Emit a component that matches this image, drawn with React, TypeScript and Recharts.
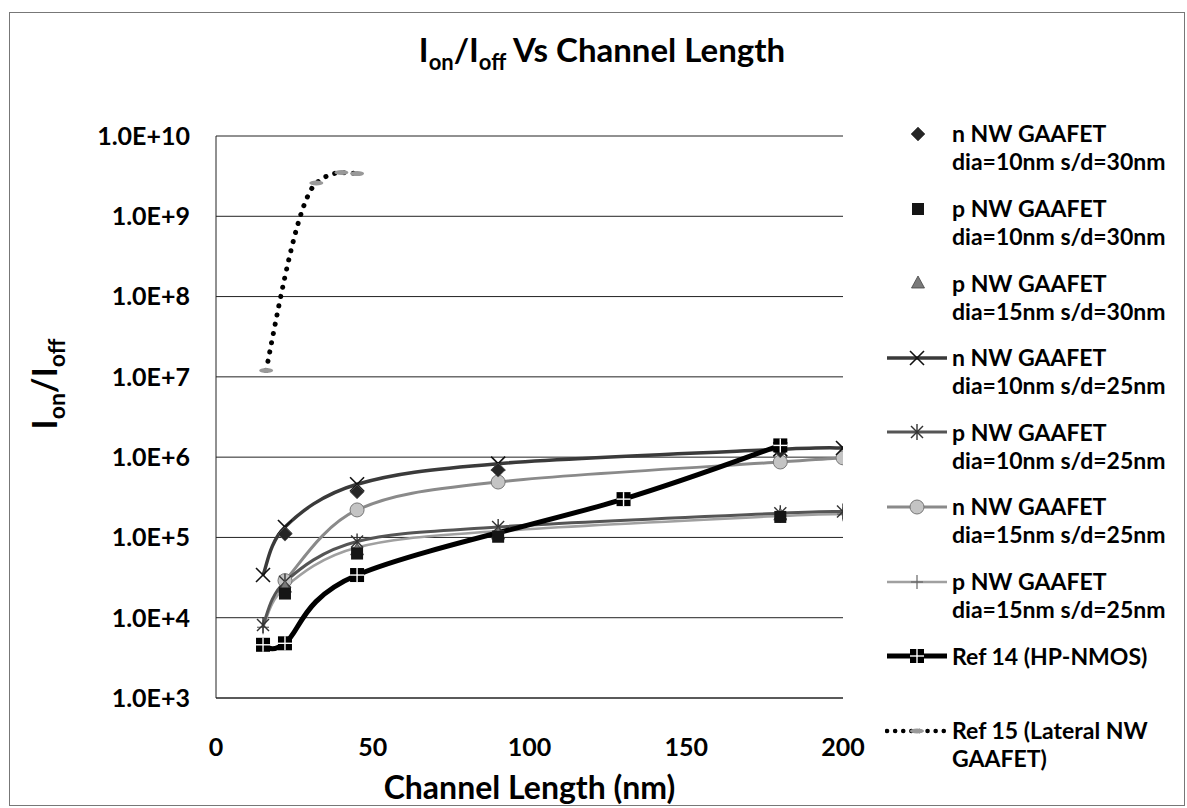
import React from 'react';
import { LineChart, Line, XAxis, YAxis, CartesianGrid } from 'recharts';

const FONT = "Lato, 'Open Sans', sans-serif";

// channel length (nm) per series group
const lenSd25 = [15, 22, 45, 90, 180, 200];
const lenSd30 = [22, 45, 90, 180];
const lenRef14 = [15, 22, 45, 130, 180];
const lenRef15 = [16, 32, 40, 45];

// Ion/Ioff values
const nDia10Sd30 = [1.1e5, 3.7e5, 6.9e5, 1.2e6];
const pDia10Sd30 = [2.0e4, 6.3e4, 1.02e5, 1.8e5];
const pDia15Sd30 = [2.4e4, 7.0e4, 1.1e5, 1.9e5];
const nDia10Sd25 = [3.4e4, 1.35e5, 4.6e5, 8.3e5, 1.25e6, 1.3e6];
const pDia10Sd25 = [8.1e3, 2.8e4, 8.9e4, 1.35e5, 2.0e5, 2.1e5];
const nDia15Sd25 = [null, 2.9e4, 2.2e5, 4.9e5, 8.7e5, 9.8e5];
const pDia15Sd25 = [7.6e3, 2.4e4, 7.5e4, 1.2e5, 1.85e5, 1.95e5];
const ref14 = [4.6e3, 4.8e3, 3.4e4, 3.0e5, 1.4e6];
const ref15 = [1.2e7, 2.6e9, 3.5e9, 3.4e9];

const xTicks = [0, 50, 100, 150, 200];
const yTicks = [1e3, 1e4, 1e5, 1e6, 1e7, 1e8, 1e9, 1e10];

const rows = (xs: number[], ys: (number | null)[]) =>
  xs.map((x, i) => ({ x, y: ys[i] })).filter(r => r.y != null);

// Excel-like smoothed line (Catmull-Rom as cubic bezier)
const excelSmooth = (context: any) => {
  let pts: number[][] = [];
  return {
    areaStart() {},
    areaEnd() {},
    lineStart() { pts = []; },
    point(x: number, y: number) { pts.push([+x, +y]); },
    lineEnd() {
      if (!pts.length) return;
      context.moveTo(pts[0][0], pts[0][1]);
      for (let i = 0; i < pts.length - 1; i++) {
        const p0 = pts[i - 1] || pts[i];
        const p1 = pts[i];
        const p2 = pts[i + 1];
        const p3 = pts[i + 2] || p2;
        context.bezierCurveTo(
          p1[0] + (p2[0] - p0[0]) / 6, p1[1] + (p2[1] - p0[1]) / 6,
          p2[0] - (p3[0] - p1[0]) / 6, p2[1] - (p3[1] - p1[1]) / 6,
          p2[0], p2[1]
        );
      }
    },
  };
};

const Marker = ({ kind, cx, cy }: { kind: string; cx: number; cy: number }) => {
  switch (kind) {
    case 'diamond':
      return <path d={`M${cx},${cy - 7}L${cx + 7},${cy}L${cx},${cy + 7}L${cx - 7},${cy}Z`} fill="#262626" stroke="#555" strokeWidth={0.8} />;
    case 'square':
      return <rect x={cx - 6} y={cy - 6} width={12} height={12} fill="#151515" />;
    case 'triangle':
      return <path d={`M${cx},${cy - 7}L${cx + 6.5},${cy + 5}L${cx - 6.5},${cy + 5}Z`} fill="#7a7a7a" stroke="#444" strokeWidth={0.8} />;
    case 'x':
      return (
        <g stroke="#111" strokeWidth={1.6}>
          <line x1={cx - 7} y1={cy - 7} x2={cx + 7} y2={cy + 7} />
          <line x1={cx - 7} y1={cy + 7} x2={cx + 7} y2={cy - 7} />
        </g>
      );
    case 'star':
      return (
        <g stroke="#333" strokeWidth={1.4}>
          <line x1={cx - 6} y1={cy - 6} x2={cx + 6} y2={cy + 6} />
          <line x1={cx - 6} y1={cy + 6} x2={cx + 6} y2={cy - 6} />
          <line x1={cx} y1={cy - 8} x2={cx} y2={cy + 8} />
        </g>
      );
    case 'circle':
      return <circle cx={cx} cy={cy} r={7} fill="#c4c4c4" stroke="#777" strokeWidth={1} />;
    case 'plus':
      return (
        <g stroke="#666" strokeWidth={1.2}>
          <line x1={cx - 6} y1={cy} x2={cx + 6} y2={cy} />
          <line x1={cx} y1={cy - 7} x2={cx} y2={cy + 7} />
        </g>
      );
    case 'ref14':
      return (
        <g>
          <rect x={cx - 7} y={cy - 7} width={14} height={14} fill="#000" />
          <line x1={cx - 7} y1={cy} x2={cx + 7} y2={cy} stroke="#fff" strokeWidth={1.4} />
          <line x1={cx} y1={cy - 7} x2={cx} y2={cy + 7} stroke="#fff" strokeWidth={1.4} />
        </g>
      );
    case 'ref15':
      return <ellipse cx={cx} cy={cy} rx={7} ry={2.5} fill="#999" />;
    default:
      return null;
  }
};

const dotFor = (kind: string) => (p: any) => {
  if (p.cx == null || p.cy == null) return <g key={p.index} />;
  return <g key={p.index}><Marker kind={kind} cx={p.cx} cy={p.cy} /></g>;
};

const legendItems = [
  { l1: 'n NW GAAFET', l2: 'dia=10nm s/d=30nm', kind: 'diamond', line: null },
  { l1: 'p NW GAAFET', l2: 'dia=10nm s/d=30nm', kind: 'square', line: null },
  { l1: 'p NW GAAFET', l2: 'dia=15nm s/d=30nm', kind: 'triangle', line: null },
  { l1: 'n NW GAAFET', l2: 'dia=10nm s/d=25nm', kind: 'x', line: { c: '#3a3a3a', w: 3.5 } },
  { l1: 'p NW GAAFET', l2: 'dia=10nm s/d=25nm', kind: 'star', line: { c: '#555', w: 3 } },
  { l1: 'n NW GAAFET', l2: 'dia=15nm s/d=25nm', kind: 'circle', line: { c: '#8a8a8a', w: 3 } },
  { l1: 'p NW GAAFET', l2: 'dia=15nm s/d=25nm', kind: 'plus', line: { c: '#a0a0a0', w: 2.5 } },
  { l1: 'Ref 14 (HP-NMOS)', l2: null, kind: 'ref14', line: { c: '#000', w: 5 } },
  { l1: 'Ref 15 (Lateral NW', l2: 'GAAFET)', kind: 'ref15', line: { c: '#000', w: 4.5, dash: true } },
];

const textStyle: React.CSSProperties = { fontFamily: FONT, fontWeight: 700, color: '#000', whiteSpace: 'nowrap' };

export default function App() {
  return (
    <div style={{ position: 'absolute', left: 0, top: 0, width: 1187, height: 808, background: '#fff' }}>
      <div style={{ position: 'absolute', left: 9, top: 12, width: 1174, height: 792, border: '1px solid #777' }} />

      <div style={{ ...textStyle, position: 'absolute', left: 602, top: 33, transform: 'translateX(-50%)', fontSize: 33, lineHeight: 1 }}>
        I<span style={{ fontSize: 22, position: 'relative', top: 8 }}>on</span>/I<span style={{ fontSize: 22, position: 'relative', top: 8 }}>off</span> Vs Channel Length
      </div>

      <div style={{ ...textStyle, position: 'absolute', left: 44, top: 384, transform: 'translate(-50%, -50%) rotate(-90deg)', fontSize: 34, lineHeight: 1 }}>
        I<span style={{ fontSize: 23, position: 'relative', top: 8 }}>on</span>/I<span style={{ fontSize: 23, position: 'relative', top: 8 }}>off</span>
      </div>

      <LineChart width={1187} height={808} margin={{ top: 136, right: 344, bottom: 0, left: 0 }} style={{ position: 'absolute', left: 0, top: 0 }}>
        <CartesianGrid vertical={false} stroke="#222" strokeWidth={1} />
        <XAxis
          type="number"
          dataKey="x"
          domain={[0, 200]}
          ticks={xTicks}
          allowDataOverflow
          height={110}
          axisLine={{ stroke: '#222' }}
          tickLine={false}
          tickSize={0}
          tickMargin={40}
          tick={{ fill: '#000', fontSize: 25, fontWeight: 700, fontFamily: FONT }}
          label={{ value: 'Channel Length (nm)', position: 'insideBottom', offset: 9, fill: '#000', fontSize: 32, fontWeight: 700, fontFamily: FONT }}
        />
        <YAxis
          type="number"
          scale="log"
          domain={[1e3, 1e10]}
          ticks={yTicks}
          allowDataOverflow
          width={216}
          axisLine={{ stroke: '#222' }}
          tickLine={false}
          tickSize={0}
          tickMargin={26}
          tickFormatter={(v: number) => `1.0E+${Math.round(Math.log10(v))}`}
          tick={{ fill: '#000', fontSize: 25, fontWeight: 700, fontFamily: FONT }}
        />
        <Line data={rows(lenSd25, pDia15Sd25)} dataKey="y" type={excelSmooth as any} stroke="#a0a0a0" strokeWidth={2.5} dot={dotFor('plus')} activeDot={false} isAnimationActive={false} />
        <Line data={rows(lenSd25, nDia15Sd25)} dataKey="y" type={excelSmooth as any} stroke="#8a8a8a" strokeWidth={3} dot={dotFor('circle')} activeDot={false} isAnimationActive={false} />
        <Line data={rows(lenSd25, pDia10Sd25)} dataKey="y" type={excelSmooth as any} stroke="#555" strokeWidth={3} dot={dotFor('star')} activeDot={false} isAnimationActive={false} />
        <Line data={rows(lenSd25, nDia10Sd25)} dataKey="y" type={excelSmooth as any} stroke="#3a3a3a" strokeWidth={3.5} dot={dotFor('x')} activeDot={false} isAnimationActive={false} />
        <Line data={rows(lenSd30, pDia15Sd30)} dataKey="y" stroke="none" dot={dotFor('triangle')} activeDot={false} isAnimationActive={false} />
        <Line data={rows(lenSd30, pDia10Sd30)} dataKey="y" stroke="none" dot={dotFor('square')} activeDot={false} isAnimationActive={false} />
        <Line data={rows(lenSd30, nDia10Sd30)} dataKey="y" stroke="none" dot={dotFor('diamond')} activeDot={false} isAnimationActive={false} />
        <Line data={rows(lenRef14, ref14)} dataKey="y" type={excelSmooth as any} stroke="#000" strokeWidth={5} dot={dotFor('ref14')} activeDot={false} isAnimationActive={false} />
        <Line data={rows(lenRef15, ref15)} dataKey="y" type="monotone" stroke="#000" strokeWidth={5} strokeDasharray="0.1 9.3" strokeLinecap="round" dot={dotFor('ref15')} activeDot={false} isAnimationActive={false} />
      </LineChart>

      {legendItems.map((it, i) => {
        const y = 134 + i * 74.6;
        return (
          <React.Fragment key={i}>
            <svg width={64} height={24} style={{ position: 'absolute', left: 885, top: y - 12 }}>
              {it.line && (
                <line x1={2} y1={12} x2={62} y2={12} stroke={it.line.c} strokeWidth={it.line.w}
                  strokeDasharray={it.line.dash ? '0.1 8' : undefined} strokeLinecap={it.line.dash ? 'round' : 'butt'} />
              )}
              <Marker kind={it.kind} cx={it.line ? 32 : 33} cy={12} />
            </svg>
            <div style={{ ...textStyle, position: 'absolute', left: 952, top: y - 14.7, fontSize: 23, lineHeight: '28px' }}>
              <div>{it.l1}</div>
              {it.l2 && <div>{it.l2}</div>}
            </div>
          </React.Fragment>
        );
      })}
    </div>
  );
}
